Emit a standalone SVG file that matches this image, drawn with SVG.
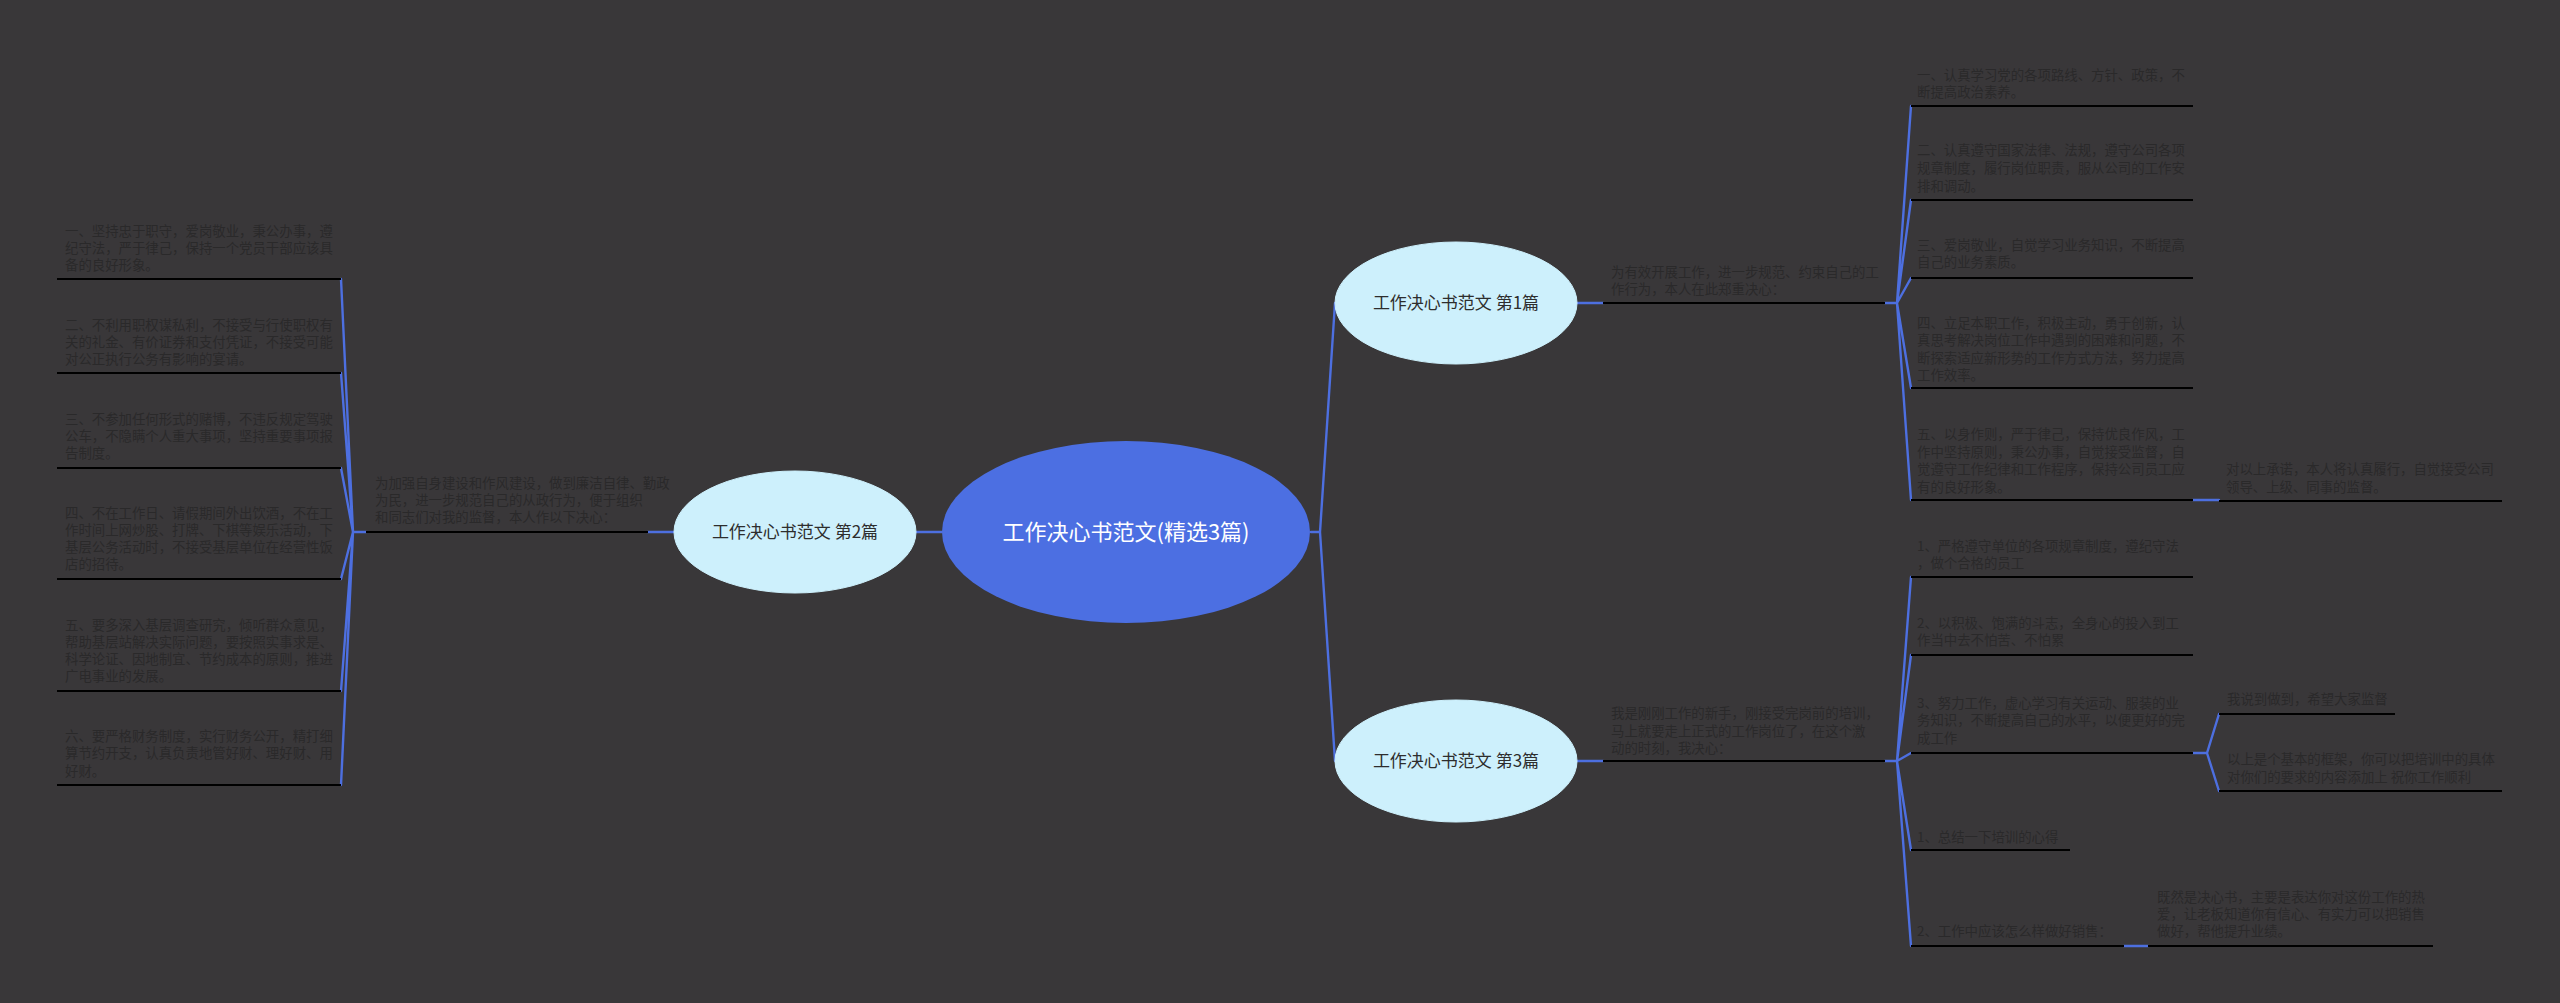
<svg xmlns="http://www.w3.org/2000/svg" width="2560" height="1003" viewBox="0 0 2560 1003">
<style>
.t{font-family:"Noto Sans CJK SC","Noto Sans",sans-serif;font-size:13.4px;fill:#2a292a}
.u{stroke:#000;stroke-width:2.2;fill:none}
.c{stroke:#4d6fe0;stroke-width:2.4;fill:none;stroke-linecap:round}
.sub{fill:#cdf0fc;stroke:#cdf0fc}
.st{font-family:"Noto Sans CJK SC","Noto Sans",sans-serif;font-size:17px;fill:#2d2d2d;text-anchor:middle}
</style>
<rect width="2560" height="1003" fill="#393739"/>
<g id="connectors">
<path class="c" d="M942 532H916"/>
<path class="c" d="M1311 532H1320L1335 303M1320 532L1335 761"/>
<path class="c" d="M1577 303H1603M1885 303H1897"/>
<path class="c" d="M1897 303L1911 106M1897 303L1911 200M1897 303L1911 278M1897 303L1911 388M1897 303L1911 500"/>
<path class="c" d="M2193 500H2219"/>
<path class="c" d="M1577 761H1603M1885 761H1897"/>
<path class="c" d="M1897 761L1911 577M1897 761L1911 655M1897 761L1911 753M1897 761L1911 850M1897 761L1911 946"/>
<path class="c" d="M2193 753H2207L2219 714M2207 753L2219 791"/>
<path class="c" d="M2124 946H2148"/>
<path class="c" d="M674 532H648M366 532H353"/>
<path class="c" d="M353 532L341 279M353 532L341 373M353 532L341 468M353 532L341 579M353 532L341 691M353 532L341 785"/>
</g>
<g id="root">
<ellipse cx="1126" cy="532" rx="184" ry="91" fill="#4c6fe2"/>
<text x="1126" y="540" font-family="'Noto Sans CJK SC','Noto Sans',sans-serif" font-size="22" fill="#fff" text-anchor="middle">工作决心书范文(精选3篇)</text>
</g>
<g id="n2">
<ellipse class="sub" cx="795" cy="532" rx="121" ry="61"/>
<text class="st" x="795" y="538">工作决心书范文 第2篇</text>
</g>
<g id="n1">
<ellipse class="sub" cx="1456" cy="303" rx="121" ry="61"/>
<text class="st" x="1456" y="309">工作决心书范文 第1篇</text>
</g>
<g id="n3">
<ellipse class="sub" cx="1456" cy="761" rx="121" ry="61"/>
<text class="st" x="1456" y="767">工作决心书范文 第3篇</text>
</g>
<g id="n2-intro">
<path class="u" d="M366 532H648"/>
<text class="t"><tspan x="375" y="488">为加强自身建设和作风建设，做到廉洁自律、勤政</tspan><tspan x="375" y="505">为民，进一步规范自己的从政行为，便于组织</tspan><tspan x="375" y="522">和同志们对我的监督，本人作以下决心：</tspan></text>
</g>
<g id="n2-1">
<path class="u" d="M57 279H341"/>
<text class="t"><tspan x="65" y="236">一、坚持忠于职守，爱岗敬业，秉公办事，遵</tspan><tspan x="65" y="253">纪守法，严于律己，保持一个党员干部应该具</tspan><tspan x="65" y="270">备的良好形象。</tspan></text>
</g>
<g id="n2-2">
<path class="u" d="M57 373H341"/>
<text class="t"><tspan x="65" y="330">二、不利用职权谋私利，不接受与行使职权有</tspan><tspan x="65" y="347">关的礼金、有价证券和支付凭证，不接受可能</tspan><tspan x="65" y="364">对公正执行公务有影响的宴请。</tspan></text>
</g>
<g id="n2-3">
<path class="u" d="M57 468H341"/>
<text class="t"><tspan x="65" y="424">三、不参加任何形式的赌博，不违反规定驾驶</tspan><tspan x="65" y="441">公车，不隐瞒个人重大事项，坚持重要事项报</tspan><tspan x="65" y="458">告制度。</tspan></text>
</g>
<g id="n2-4">
<path class="u" d="M57 579H341"/>
<text class="t"><tspan x="65" y="518">四、不在工作日、请假期间外出饮酒，不在工</tspan><tspan x="65" y="535">作时间上网炒股、打牌、下棋等娱乐活动，下</tspan><tspan x="65" y="552">基层公务活动时，不接受基层单位在经营性饭</tspan><tspan x="65" y="569">店的招待。</tspan></text>
</g>
<g id="n2-5">
<path class="u" d="M57 691H341"/>
<text class="t"><tspan x="65" y="630">五、要多深入基层调查研究，倾听群众意见，</tspan><tspan x="65" y="647">帮助基层站解决实际问题，要按照实事求是、</tspan><tspan x="65" y="664">科学论证、因地制宜、节约成本的原则，推进</tspan><tspan x="65" y="681">广电事业的发展。</tspan></text>
</g>
<g id="n2-6">
<path class="u" d="M57 785H341"/>
<text class="t"><tspan x="65" y="741">六、要严格财务制度，实行财务公开，精打细</tspan><tspan x="65" y="758">算节约开支，认真负责地管好财、理好财、用</tspan><tspan x="65" y="776">好财。</tspan></text>
</g>
<g id="n1-intro">
<path class="u" d="M1603 303H1885"/>
<text class="t"><tspan x="1611" y="277">为有效开展工作，进一步规范、约束自己的工</tspan><tspan x="1611" y="294">作行为，本人在此郑重决心：</tspan></text>
</g>
<g id="n1-1">
<path class="u" d="M1911 106H2193"/>
<text class="t"><tspan x="1917" y="80">一、认真学习党的各项路线、方针、政策，不</tspan><tspan x="1917" y="97">断提高政治素养。</tspan></text>
</g>
<g id="n1-2">
<path class="u" d="M1911 200H2193"/>
<text class="t"><tspan x="1917" y="155">二、认真遵守国家法律、法规，遵守公司各项</tspan><tspan x="1917" y="173">规章制度，履行岗位职责，服从公司的工作安</tspan><tspan x="1917" y="191">排和调动。</tspan></text>
</g>
<g id="n1-3">
<path class="u" d="M1911 278H2193"/>
<text class="t"><tspan x="1917" y="250">三、爱岗敬业，自觉学习业务知识，不断提高</tspan><tspan x="1917" y="267">自己的业务素质。</tspan></text>
</g>
<g id="n1-4">
<path class="u" d="M1911 388H2193"/>
<text class="t"><tspan x="1917" y="328">四、立足本职工作，积极主动，勇于创新，认</tspan><tspan x="1917" y="345">真思考解决岗位工作中遇到的困难和问题，不</tspan><tspan x="1917" y="363">断探索适应新形势的工作方式方法，努力提高</tspan><tspan x="1917" y="380">工作效率。</tspan></text>
</g>
<g id="n1-5">
<path class="u" d="M1911 500H2193"/>
<text class="t"><tspan x="1917" y="439">五、以身作则，严于律己，保持优良作风，工</tspan><tspan x="1917" y="457">作中坚持原则，秉公办事，自觉接受监督，自</tspan><tspan x="1917" y="474">觉遵守工作纪律和工作程序，保持公司员工应</tspan><tspan x="1917" y="492">有的良好形象。</tspan></text>
</g>
<g id="n1-5-1">
<path class="u" d="M2219 501H2502"/>
<text class="t"><tspan x="2226" y="474">对以上承诺，本人将认真履行，自觉接受公司</tspan><tspan x="2226" y="492">领导、上级、同事的监督。</tspan></text>
</g>
<g id="n3-intro">
<path class="u" d="M1603 761H1885"/>
<text class="t"><tspan x="1611" y="718">我是刚刚工作的新手，刚接受完岗前的培训，</tspan><tspan x="1611" y="736">马上就要走上正式的工作岗位了，在这个激</tspan><tspan x="1611" y="753">动的时刻，我决心：</tspan></text>
</g>
<g id="n3-1">
<path class="u" d="M1911 577H2193"/>
<text class="t"><tspan x="1917" y="551">1、严格遵守单位的各项规章制度，遵纪守法</tspan><tspan x="1917" y="568">，做个合格的员工</tspan></text>
</g>
<g id="n3-2">
<path class="u" d="M1911 655H2193"/>
<text class="t"><tspan x="1917" y="628">2、以积极、饱满的斗志，全身心的投入到工</tspan><tspan x="1917" y="645">作当中去不怕苦、不怕累</tspan></text>
</g>
<g id="n3-3">
<path class="u" d="M1911 753H2193"/>
<text class="t"><tspan x="1917" y="708">3、努力工作，虚心学习有关运动、服装的业</tspan><tspan x="1917" y="725">务知识，不断提高自己的水平，以便更好的完</tspan><tspan x="1917" y="743">成工作</tspan></text>
</g>
<g id="n3-3-1">
<path class="u" d="M2219 714H2395"/>
<text class="t"><tspan x="2227" y="704">我说到做到，希望大家监督</tspan></text>
</g>
<g id="n3-3-2">
<path class="u" d="M2219 791H2502"/>
<text class="t"><tspan x="2227" y="764">以上是个基本的框架，你可以把培训中的具体</tspan><tspan x="2227" y="782">对你们的要求的内容添加上 祝你工作顺利</tspan></text>
</g>
<g id="n3-4">
<path class="u" d="M1911 850H2070"/>
<text class="t"><tspan x="1917" y="842">1、总结一下培训的心得</tspan></text>
</g>
<g id="n3-5">
<path class="u" d="M1911 946H2124"/>
<text class="t"><tspan x="1917" y="936">2、工作中应该怎么样做好销售：</tspan></text>
</g>
<g id="n3-5-1">
<path class="u" d="M2148 946H2433"/>
<text class="t"><tspan x="2157" y="902">既然是决心书，主要是表达你对这份工作的热</tspan><tspan x="2157" y="919">爱，让老板知道你有信心、有实力可以把销售</tspan><tspan x="2157" y="936">做好，帮他提升业绩。</tspan></text>
</g>
</svg>
